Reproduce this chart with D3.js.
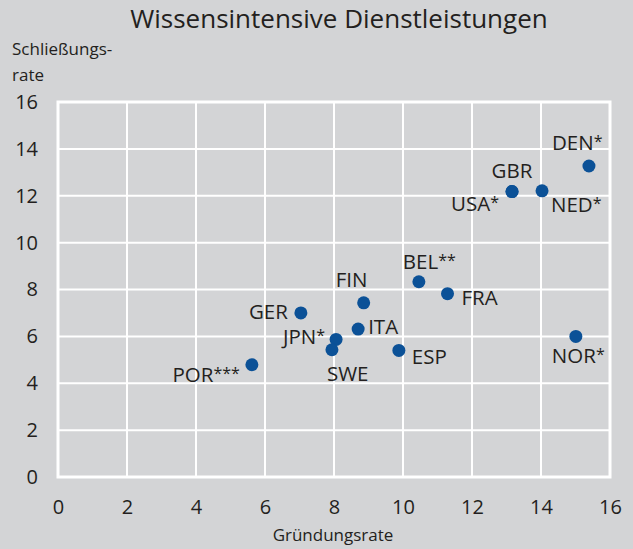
<!DOCTYPE html>
<meta charset="utf-8">
<style>
  body { margin: 0; background: #d3d4d6; }
  svg text { font-family: 'Open Sans', sans-serif; fill: #231f20; }
</style>
<svg width="633" height="549"></svg>
<script src="https://d3js.org/d3.v7.min.js"></script>
<script>
// data
var countries = ["POR", "GER", "JPN", "SWE", "FIN", "ITA", "ESP", "BEL", "FRA", "USA", "GBR", "NED", "DEN", "NOR"];
var marks     = ["***", "", "*", "", "", "", "", "**", "", "*", "", "*", "*", "*"];
var gruendung = [5.62, 7.04, 8.06, 7.94, 8.86, 8.70, 9.88, 10.46, 11.29, 13.16, 13.16, 14.03, 15.39, 15.01];
var schliess  = [4.79, 7.00, 5.87, 5.43, 7.43, 6.31, 5.40, 8.33, 7.82, 12.18, 12.18, 12.21, 13.27, 6.00];
var xTicks = [0, 2, 4, 6, 8, 10, 12, 14, 16];
var yTicks = [0, 2, 4, 6, 8, 10, 12, 14, 16];

// label placement relative to the dot
var labelPos = {
  POR: [-12, 17, "end"], GER: [-13, 6, "end"], JPN: [-11, 5, "end"],
  SWE: [-5, 31, "start"], FIN: [-28, -16, "start"], ITA: [10, 5, "start"],
  ESP: [13, 14, "start"], BEL: [-16, -13, "start"], FRA: [14, 11, "start"],
  USA: [-13, 19, "end"], GBR: [0, -14, "middle"], NED: [9, 21, "start"],
  DEN: [-37, -16, "start"], NOR: [-24, 27, "start"]
};

var svg = d3.select("svg");
svg.append("rect").attr("width", 633).attr("height", 549).attr("fill", "#d3d4d6");

var x = d3.scaleLinear().domain([0, 16]).range([58, 610]);
var y = d3.scaleLinear().domain([0, 16]).range([477, 102]);

// grid
svg.append("g").selectAll("line").data(xTicks).join("line")
    .attr("x1", d => x(d)).attr("x2", d => x(d))
    .attr("y1", y(16)).attr("y2", y(0))
    .attr("stroke", "#fff").attr("stroke-width", 2);
svg.append("g").selectAll("line").data(yTicks).join("line")
    .attr("x1", x(0)).attr("x2", x(16))
    .attr("y1", d => y(d)).attr("y2", d => y(d))
    .attr("stroke", "#fff").attr("stroke-width", 2);
svg.append("rect")
    .attr("x", x(0)).attr("y", y(16))
    .attr("width", x(16) - x(0)).attr("height", y(0) - y(16))
    .attr("fill", "none").attr("stroke", "#fff").attr("stroke-width", 3);

// axes (labels only)
var xAxis = svg.append("g")
    .attr("transform", "translate(0," + (y(0) + 23) + ")")
    .call(d3.axisBottom(x).tickValues(xTicks).tickSize(0).tickPadding(0));
xAxis.select(".domain").remove();
xAxis.selectAll("text").attr("font-size", 20).attr("dy", "0.71em").attr("fill", "#231f20");

var yAxis = svg.append("g")
    .attr("transform", "translate(38,0)")
    .call(d3.axisLeft(y).tickValues(yTicks).tickSize(0).tickPadding(0));
yAxis.select(".domain").remove();
yAxis.selectAll("text").attr("font-size", 20).attr("fill", "#231f20");
svg.selectAll(".tick text").style("font-family", "'Open Sans', sans-serif");

// titles
svg.append("text").attr("x", 339).attr("y", 28).attr("text-anchor", "middle")
    .attr("font-size", 26).text("Wissensintensive Dienstleistungen");
svg.append("text").attr("x", 12).attr("y", 55).attr("font-size", 17).text("Schließungs-");
svg.append("text").attr("x", 12).attr("y", 81).attr("font-size", 17).text("rate");
svg.append("text").attr("x", 333).attr("y", 541).attr("text-anchor", "middle")
    .attr("font-size", 17).text("Gründungsrate");

// points
var data = countries.map((c, i) => ({ c: c, m: marks[i], gx: gruendung[i], sy: schliess[i] }));

svg.append("g").selectAll("circle").data(data).join("circle")
    .attr("cx", d => x(d.gx)).attr("cy", d => y(d.sy)).attr("r", 6.5)
    .attr("fill", "#0b5197");

var lab = svg.append("g").selectAll("text").data(data).join("text")
    .attr("x", d => x(d.gx) + labelPos[d.c][0])
    .attr("y", d => y(d.sy) + labelPos[d.c][1])
    .attr("text-anchor", d => labelPos[d.c][2])
    .attr("font-size", 20.5);
lab.append("tspan").text(d => d.c);
lab.append("tspan").attr("font-size", 16).attr("dy", -3).text(d => d.m);
</script>
